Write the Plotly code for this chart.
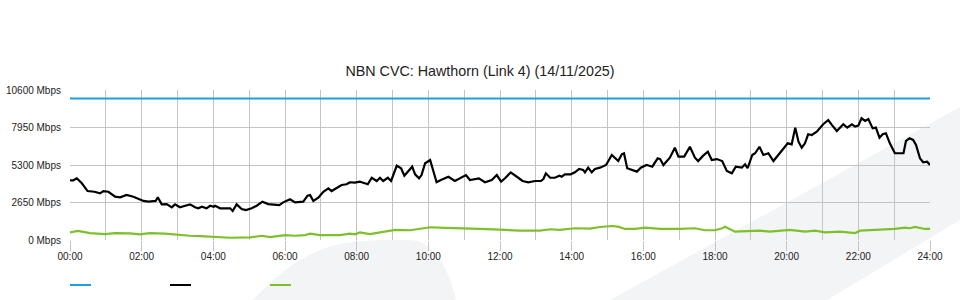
import plotly.graph_objects as go

# ---- data (hours of day, Mbps) ----
capacity_hours = [0, 24]
capacity_mbps = [10000, 10000]

traffic_hours = [0.00, 0.09, 0.19, 0.33, 0.49, 0.68, 0.84, 0.93, 1.07, 1.26, 1.40, 1.58, 1.77, 1.91,
                 2.05, 2.19, 2.32, 2.39, 2.45, 2.56, 2.70, 2.84, 2.93, 3.07, 3.19, 3.35, 3.49, 3.58,
                 3.68, 3.81, 3.91, 4.01, 4.05, 4.19, 4.47, 4.54, 4.65, 4.79, 4.91, 5.07, 5.21, 5.37,
                 5.53, 5.72, 5.84, 5.95, 6.14, 6.28, 6.51, 6.63, 6.70, 6.79, 6.93, 7.07, 7.21, 7.30,
                 7.44, 7.58, 7.72, 7.81, 7.95, 8.09, 8.14, 8.31, 8.42, 8.56, 8.65, 8.74, 8.87, 8.96,
                 9.12, 9.24, 9.33, 9.55, 9.63, 9.74, 9.81, 9.91, 10.05, 10.23, 10.35, 10.56, 10.74,
                 10.91, 11.05, 11.16, 11.30, 11.41, 11.58, 11.77, 11.91, 12.03, 12.14, 12.30, 12.47,
                 12.63, 12.79, 12.98, 13.14, 13.21, 13.28, 13.40, 13.53, 13.66, 13.72, 13.81, 13.97,
                 14.09, 14.21, 14.32, 14.37, 14.46, 14.56, 14.65, 14.79, 14.96, 15.12, 15.30, 15.40,
                 15.46, 15.55, 15.68, 15.82, 15.93, 16.09, 16.19, 16.25, 16.40, 16.47, 16.56, 16.74,
                 16.88, 16.98, 17.14, 17.30, 17.44, 17.53, 17.67, 17.80, 17.91, 18.05, 18.20, 18.33,
                 18.47, 18.58, 18.75, 18.84, 18.91, 19.04, 19.12, 19.24, 19.35, 19.49, 19.63, 19.77,
                 19.91, 20.03, 20.14, 20.24, 20.33, 20.42, 20.51, 20.60, 20.70, 20.84, 21.02, 21.16,
                 21.26, 21.40, 21.58, 21.69, 21.82, 21.91, 22.00, 22.09, 22.19, 22.28, 22.40, 22.49,
                 22.59, 22.68, 22.77, 22.88, 23.02, 23.26, 23.33, 23.43, 23.53, 23.61, 23.72, 23.81,
                 23.92, 24.00]
traffic_mbps = [4220, 4220, 4360, 4010, 3460, 3410, 3300, 3460, 3410, 3060, 3020, 3180, 3060, 2900,
                2760, 2710, 2760, 2760, 3020, 2520, 2540, 2310, 2520, 2310, 2400, 2520, 2310, 2240,
                2350, 2240, 2420, 2350, 2420, 2240, 2240, 2050, 2520, 2190, 2120, 2240, 2420, 2710,
                2540, 2520, 2470, 2660, 2880, 2660, 2710, 3130, 3180, 2760, 2990, 3410, 3650, 3460,
                3700, 3890, 3940, 4080, 4050, 4120, 4080, 3940, 4400, 4170, 4400, 4170, 4400, 4170,
                5250, 5070, 4540, 5180, 4640, 4360, 4590, 5420, 5650, 4080, 4240, 4470, 4170,
                4400, 4590, 4240, 4310, 4360, 4080, 4240, 4590, 4120, 4360, 4780, 4470,
                4170, 4080, 4170, 4170, 4310, 4710, 4400, 4400, 4540, 4470, 4640, 4640,
                4780, 5020, 4950, 4780, 5110, 4780, 5020, 5110, 5300, 6010, 5580, 6060,
                6130, 5070, 4950, 4830, 5110, 5300, 5230, 5180, 5770, 5720, 5300, 5820,
                6520, 5890, 5890, 6590, 5820, 5580, 5960, 6240, 5650, 5720, 5580, 4880,
                4710, 5180, 5110, 5350, 5070, 6010, 6130, 6590, 6010, 6130, 5580, 6010,
                6430, 6830, 6760, 7940, 6950, 6520, 6830, 7470, 7420, 7650, 8180, 8480,
                8130, 7700, 8180, 7940, 8180, 8010, 8080, 8600, 8410, 8550, 7890, 7940,
                7230, 7470, 7540, 6830, 6130, 6130, 7000, 7190, 7070, 6710, 5770, 5490,
                5530, 5300]

other_hours = [0.00, 0.22, 0.56, 0.98, 1.26, 1.67, 1.95, 2.23, 2.65, 3.07, 3.35, 3.63, 3.99, 4.47,
               5.02, 5.36, 5.58, 6.00, 6.28, 6.56, 6.70, 6.98, 7.53, 7.81, 7.95, 8.09, 8.37, 8.79,
               9.07, 9.49, 9.77, 10.05, 10.47, 10.88, 11.44, 12.00, 12.56, 13.12, 13.40, 13.67,
               14.09, 14.51, 14.79, 15.13, 15.29, 15.49, 15.77, 16.05, 16.47, 17.02, 17.44, 17.72,
               18.00, 18.20, 18.28, 18.56, 19.26, 19.53, 20.09, 20.51, 20.79, 21.07, 21.49, 21.91,
               22.05, 22.60, 23.02, 23.30, 23.44, 23.58, 23.86, 24.00]
other_mbps = [540, 640, 490, 420, 490, 470, 400, 490, 450, 350, 300, 280, 230, 160,
              190, 300, 210, 350, 300, 350, 450, 350, 350, 450, 400, 540, 420, 590,
              710, 690, 780, 900, 850, 800, 780, 730, 660, 660, 760, 710,
              830, 800, 920, 990, 940, 780, 780, 870, 780, 780, 830, 690,
              690, 830, 940, 590, 660, 590, 710, 590, 660, 540, 590, 490,
              660, 730, 780, 870, 830, 920, 780, 780]

y_ticks = [0, 2650, 5300, 7950, 10600]
y_tick_text = ["0 Mbps", "2650 Mbps", "5300 Mbps", "7950 Mbps", "10600 Mbps"]
x_ticks = [0, 2, 4, 6, 8, 10, 12, 14, 16, 18, 20, 22, 24]
x_tick_text = ["00:00", "02:00", "04:00", "06:00", "08:00", "10:00", "12:00",
               "14:00", "16:00", "18:00", "20:00", "22:00", "24:00"]

title_text = "NBN CVC: Hawthorn (Link 4) (14/11/2025)"

BLUE = "#1ea0e0"
BLACK = "#000000"
GREEN = "#7cc02a"
GRID = "#c4c4c4"
FONT = "Liberation Sans, Arial, sans-serif"

fig = go.Figure()
fig.add_trace(go.Scatter(x=capacity_hours, y=capacity_mbps, mode="lines",
                         line=dict(color=BLUE, width=2), hoverinfo="skip"))
fig.add_trace(go.Scatter(x=other_hours, y=other_mbps, mode="lines",
                         line=dict(color=GREEN, width=2.2), hoverinfo="skip"))
fig.add_trace(go.Scatter(x=traffic_hours, y=traffic_mbps, mode="lines",
                         line=dict(color=BLACK, width=2.2), hoverinfo="skip"))

# plot area: x 70..930 px, y 90..240 px
L, R, T, B = 70, 30, 90, 60
PW, PH = 960 - L - R, 300 - T - B


def px(xp):
    return (xp - L) / PW


def py(yp):
    return (300 - B - yp) / PH


# faint background watermark
shapes = []
blob = (f"M {px(253)},{py(300)} C {px(285)},{py(265)} {px(315)},{py(248)} {px(345)},{py(243)} "
        f"C {px(375)},{py(239)} {px(405)},{py(239)} {px(418)},{py(241)} "
        f"C {px(440)},{py(250)} {px(450)},{py(275)} {px(456)},{py(300)} Z")
band = (f"M {px(610)},{py(300)} L {px(960)},{py(107)} L {px(960)},{py(220)} "
        f"L {px(827)},{py(300)} Z")
for p in (blob, band):
    shapes.append(dict(type="path", path=p, xref="paper", yref="paper",
                       fillcolor="#f3f4f6", line=dict(width=0), layer="below"))

# legend swatches (no text in the reference)
for x0, col in ((70, BLUE), (170, BLACK), (270, GREEN)):
    shapes.append(dict(type="line", xref="paper", yref="paper",
                       x0=px(x0), x1=px(x0 + 21), y0=py(285), y1=py(285),
                       line=dict(color=col, width=2)))

fig.update_layout(
    width=960, height=300,
    margin=dict(l=L, r=R, t=T, b=B, autoexpand=False),
    paper_bgcolor="white", plot_bgcolor="rgba(0,0,0,0)",
    showlegend=False,
    font=dict(family=FONT, size=10, color="#333333"),
    title=dict(text=title_text, x=0.5, xref="container", xanchor="center",
               y=1 - 71 / 300, yref="container", yanchor="middle",
               font=dict(family=FONT, size=14.3, color="#222222")),
    shapes=shapes,
    xaxis=dict(range=[0, 24], tickvals=x_ticks, ticktext=x_tick_text,
               showgrid=True, gridcolor=GRID, gridwidth=1,
               minor=dict(dtick=1, showgrid=True, gridcolor=GRID, gridwidth=1),
               ticks="outside", ticklen=10, tickcolor=GRID, tickwidth=1,
               showline=False, zeroline=False, fixedrange=True, automargin=False,
               ticklabelstandoff=-3,
               tickfont=dict(family=FONT, size=10, color="#222222")),
    yaxis=dict(range=[0, 10600], tickvals=y_ticks, ticktext=y_tick_text,
               showgrid=True, gridcolor=GRID, gridwidth=1,
               ticks="", showline=False, zeroline=False, fixedrange=True, automargin=False,
               ticklabelstandoff=8,
               tickfont=dict(family=FONT, size=10, color="#222222")),
)

fig.write_html("out.html")
